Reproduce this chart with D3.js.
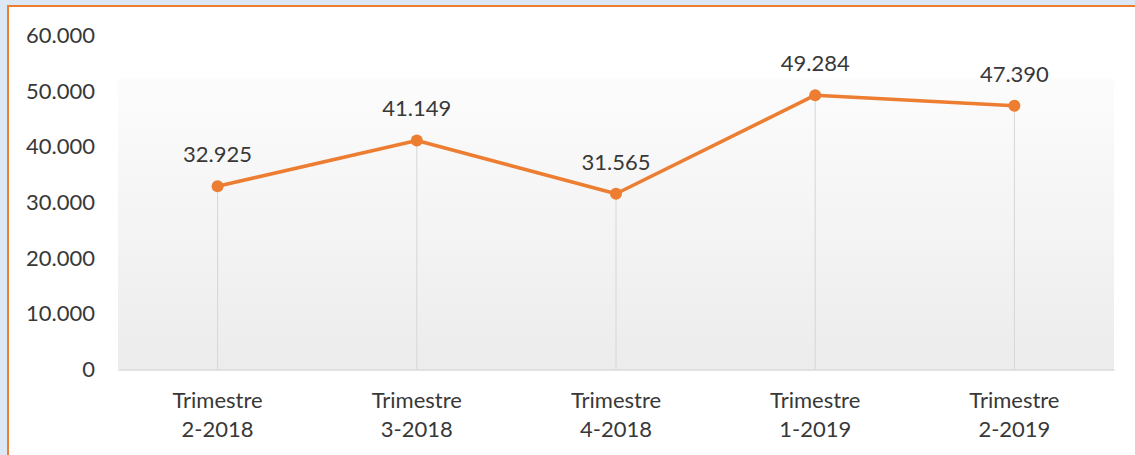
<!DOCTYPE html>
<html>
<head>
<meta charset="utf-8">
<script src="https://cdn.jsdelivr.net/npm/d3@7"></script>
<style>
  html, body { margin: 0; padding: 0; background: #dde8f7; }
  svg { display: block; }
  text { font-family: Lato, "Open Sans", sans-serif; fill: #383838; }
</style>
</head>
<body>
<svg id="chart" width="1135" height="455"></svg>
<script>
// data
var categories = [["Trimestre", "2-2018"], ["Trimestre", "3-2018"], ["Trimestre", "4-2018"], ["Trimestre", "1-2019"], ["Trimestre", "2-2019"]];
var values = [32925, 41149, 31565, 49284, 47390];
var yTicks = [0, 10000, 20000, 30000, 40000, 50000, 60000];

var svg = d3.select("#chart");
var width = +svg.attr("width");
var height = +svg.attr("height");

// frame: white card with orange top/left border
svg.append("rect")
    .attr("x", 8).attr("y", 6)
    .attr("width", width - 8).attr("height", height - 6)
    .attr("fill", "#ffffff");
svg.append("line")
    .attr("x1", 7).attr("x2", width).attr("y1", 6).attr("y2", 6)
    .attr("stroke", "#ed7d31").attr("stroke-width", 2);
svg.append("line")
    .attr("x1", 8).attr("x2", 8).attr("y1", 5).attr("y2", height)
    .attr("stroke", "#ed7d31").attr("stroke-width", 2);

var plot = {left: 118, right: 1114, top: 35.5, bottom: 369.5};

var x = d3.scaleBand()
    .domain(d3.range(categories.length))
    .range([plot.left, plot.right]);

var y = d3.scaleLinear()
    .domain([0, 60000])
    .range([plot.bottom, plot.top]);

var loc = d3.formatLocale({decimal: ",", thousands: ".", grouping: [3], currency: ["", ""]});
var fmt = loc.format(",d");

// plot area gradient
var defs = svg.append("defs");
var grad = defs.append("linearGradient")
    .attr("id", "plotGrad")
    .attr("x1", 0).attr("y1", 0).attr("x2", 0).attr("y2", 1);
grad.append("stop").attr("offset", "0%").attr("stop-color", "#fcfcfc");
grad.append("stop").attr("offset", "100%").attr("stop-color", "#ececec");

svg.append("rect")
    .attr("x", plot.left)
    .attr("y", 78)
    .attr("width", plot.right - plot.left)
    .attr("height", plot.bottom - 78)
    .attr("fill", "url(#plotGrad)");

// y axis labels
var yAxis = d3.axisLeft(y)
    .tickValues(yTicks)
    .tickSize(0)
    .tickPadding(0)
    .tickFormat(function(d){ return d === 0 ? "0" : fmt(d); });

var gy = svg.append("g")
    .attr("transform", "translate(95,0)")
    .call(yAxis);
gy.select(".domain").remove();
gy.selectAll("text")
    .attr("font-size", 22)
    .attr("fill", "#383838")
    .style("font-family", "Lato, sans-serif");

// drop lines
var cx = function(i){ return x(i) + x.bandwidth() / 2; };

svg.append("g").attr("class", "drops")
    .selectAll("line")
    .data(values)
    .enter().append("line")
    .attr("x1", function(d, i){ return cx(i); })
    .attr("x2", function(d, i){ return cx(i); })
    .attr("y1", function(d){ return y(d); })
    .attr("y2", plot.bottom)
    .attr("stroke", "#d6d6d6")
    .attr("stroke-width", 1);

// x axis line
var xAxis = d3.axisBottom(x).tickSize(0).tickFormat("");
var gx = svg.append("g")
    .attr("transform", "translate(0," + plot.bottom + ")")
    .call(xAxis);
gx.select(".domain").attr("stroke", "#d9d9d9").attr("stroke-width", 1.5);

// x labels (two lines)
var xl = svg.append("g").attr("class", "xlabels")
    .selectAll("text")
    .data(categories)
    .enter().append("text")
    .attr("text-anchor", "middle")
    .attr("font-size", 22)
    .attr("x", function(d, i){ return cx(i); })
    .attr("y", 408);
xl.append("tspan")
    .attr("x", function(d, i){ return cx(i); })
    .text(function(d){ return d[0]; });
xl.append("tspan")
    .attr("x", function(d, i){ return cx(i); })
    .attr("dy", 29)
    .text(function(d){ return d[1]; });

// line
var line = d3.line()
    .x(function(d, i){ return cx(i); })
    .y(function(d){ return y(d); });

svg.append("path")
    .datum(values)
    .attr("d", line)
    .attr("fill", "none")
    .attr("stroke", "#ed7d31")
    .attr("stroke-width", 3.5)
    .attr("stroke-linejoin", "round");

svg.append("g").attr("class", "points")
    .selectAll("circle")
    .data(values)
    .enter().append("circle")
    .attr("cx", function(d, i){ return cx(i); })
    .attr("cy", function(d){ return y(d); })
    .attr("r", 6)
    .attr("fill", "#ed7d31");

// data labels
svg.append("g").attr("class", "labels")
    .selectAll("text")
    .data(values)
    .enter().append("text")
    .attr("text-anchor", "middle")
    .attr("font-size", 22)
    .attr("x", function(d, i){ return cx(i); })
    .attr("y", function(d){ return y(d) - 24; })
    .text(function(d){ return fmt(d); });
</script>
</body>
</html>
